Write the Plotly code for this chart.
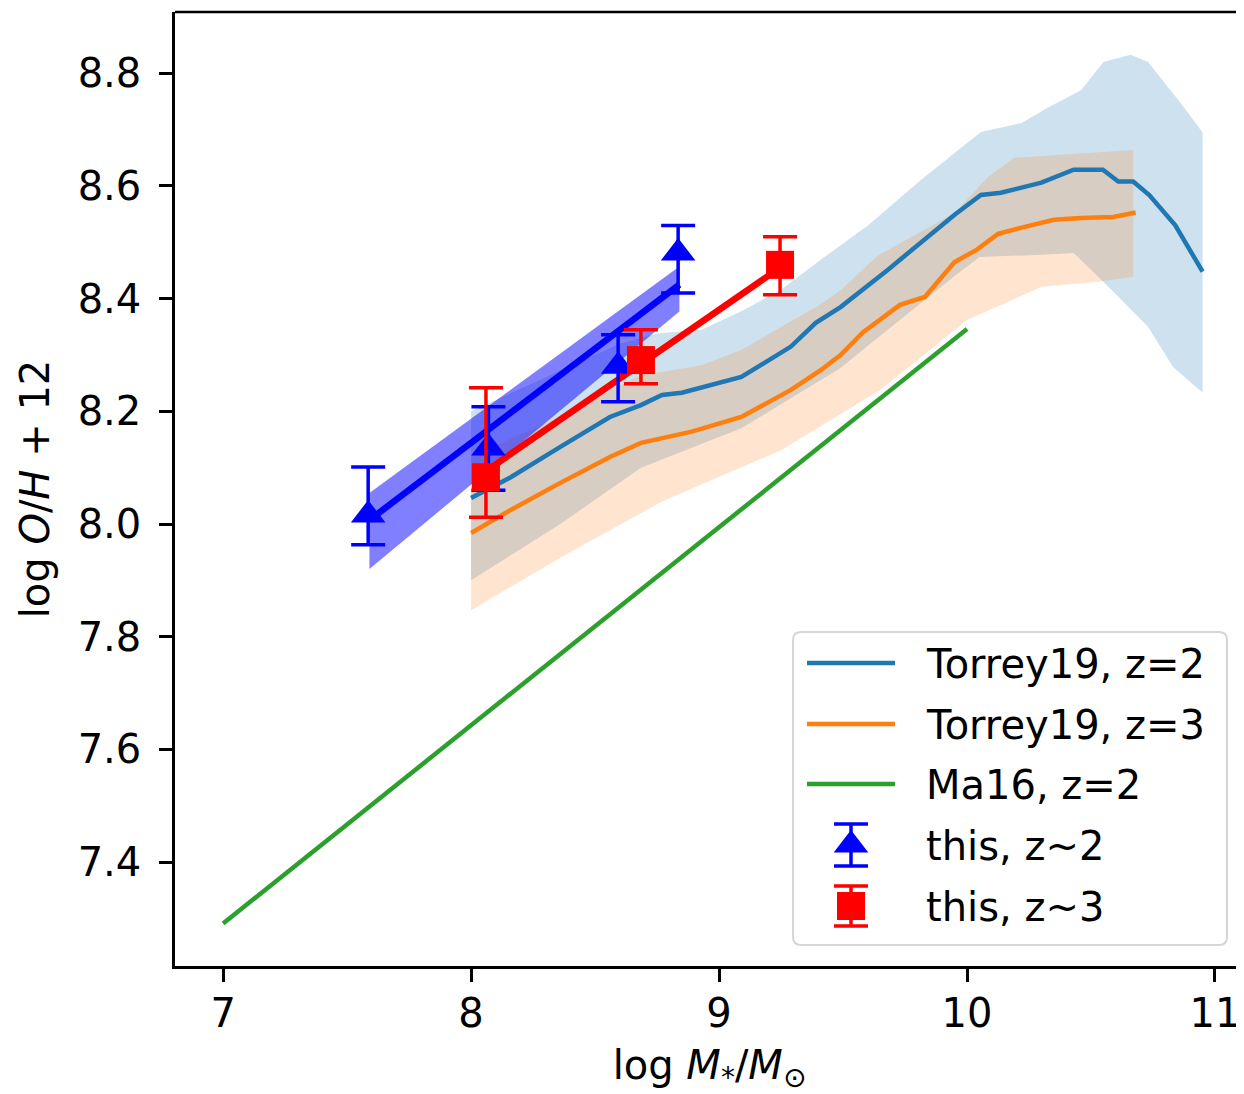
import plotly.graph_objects as go

# ---------------- data ----------------
# Torrey19, z=2 : median line
t2_x = [8.0, 8.16, 8.36, 8.56, 8.685, 8.77, 8.85, 8.89, 9.09, 9.29, 9.39, 9.49, 9.68,
        9.95, 10.056, 10.137, 10.22, 10.30, 10.43, 10.548, 10.61, 10.67, 10.735, 10.84, 10.95]
t2_y = [8.046, 8.083, 8.137, 8.19, 8.211, 8.229, 8.233, 8.238, 8.261, 8.315, 8.357, 8.385, 8.451,
        8.549, 8.584, 8.588, 8.597, 8.606, 8.629, 8.629, 8.608, 8.608, 8.584, 8.53, 8.448]
# Torrey19, z=2 : band edges
t2_up_x = [8.0, 8.3, 8.6, 8.75, 8.93, 9.1, 9.25, 9.41, 9.6, 9.815, 10.056, 10.22, 10.33,
           10.46, 10.55, 10.66, 10.73, 10.86, 10.95]
t2_up_y = [8.20, 8.26, 8.32, 8.338, 8.345, 8.38, 8.416, 8.469, 8.53, 8.611, 8.696, 8.712, 8.74,
           8.77, 8.82, 8.833, 8.82, 8.748, 8.695]
t2_lo_x = [8.0, 8.36, 8.685, 8.77, 9.09, 9.49, 9.61, 9.95, 10.05, 10.30, 10.43, 10.55, 10.73,
           10.83, 10.95]
t2_lo_y = [7.90, 8.00, 8.10, 8.114, 8.17, 8.277, 8.32, 8.44, 8.474, 8.478, 8.481, 8.43, 8.35,
           8.279, 8.233]

# Torrey19, z=3 : median line
t3_x = [8.0, 8.16, 8.36, 8.56, 8.685, 8.77, 8.89, 9.09, 9.29, 9.41, 9.49, 9.58, 9.73, 9.83,
        9.95, 10.04, 10.125, 10.22, 10.35, 10.46, 10.59, 10.68]
t3_y = [7.984, 8.025, 8.073, 8.119, 8.144, 8.152, 8.164, 8.19, 8.238, 8.273, 8.30, 8.34, 8.389,
        8.403, 8.465, 8.487, 8.515, 8.526, 8.540, 8.543, 8.545, 8.553]
# Torrey19, z=3 : band edges
t3_up_x = [8.0, 8.36, 8.685, 8.77, 8.93, 9.09, 9.41, 9.49, 9.64, 9.95, 10.085, 10.19, 10.67]
t3_up_y = [8.12, 8.19, 8.265, 8.27, 8.282, 8.309, 8.39, 8.415, 8.476, 8.552, 8.616, 8.65, 8.664]
t3_lo_x = [8.0, 8.36, 8.77, 9.25, 9.65, 10.0, 10.22, 10.30, 10.53, 10.67]
t3_lo_y = [7.847, 7.94, 8.04, 8.131, 8.238, 8.362, 8.405, 8.421, 8.43, 8.439]

# Ma16, z=2
ma_x = [7.0, 10.0]
ma_y = [7.291, 8.346]

# this, z~2
z2_x = [7.585, 8.07, 8.593, 8.835]
z2_y = [8.016, 8.135, 8.28, 8.481]
z2_ep = [0.085, 0.073, 0.056, 0.049]
z2_em = [0.053, 0.075, 0.063, 0.071]
z2_fit_x = [7.59, 8.84]
z2_fit_y = [8.007, 8.425]
z2_fit_up = [8.055, 8.457]
z2_fit_lo = [7.92, 8.377]

# this, z~3
z3_x = [8.06, 8.685, 9.246]
z3_y = [8.083, 8.291, 8.46]
z3_ep = [0.159, 0.054, 0.05]
z3_em = [0.071, 0.042, 0.053]
z3_fit_x = [8.06, 9.246]
z3_fit_y = [8.094, 8.455]

legend_labels = ["Torrey19, z=2", "Torrey19, z=3", "Ma16, z=2", "this, z~2", "this, z~3"]

x_ticks = [7, 8, 9, 10, 11]
y_ticks = [7.4, 7.6, 7.8, 8.0, 8.2, 8.4, 8.6, 8.8]

# ---------------- styling ----------------
C_BLUE = "#1f77b4"
C_ORANGE = "#ff7f0e"
C_GREEN = "#2ca02c"
FONT = "DejaVu Sans"
FS = 40
LW = 4.5

OFF = 8  # page body margin
W, H = 1244 - OFF, 1094 - OFF
L, R, T, B = 175 - OFF, 0, 12 - OFF, 128


def band(xu, yu, xl, yl):
    return list(xu) + list(xl)[::-1], list(yu) + list(yl)[::-1]


fig = go.Figure()

bx, by = band(t2_up_x, t2_up_y, t2_lo_x, t2_lo_y)
fig.add_trace(go.Scatter(x=bx, y=by, fill="toself", fillcolor="rgba(31,119,180,0.22)",
                         line=dict(width=0), mode="lines", showlegend=False, hoverinfo="skip"))
bx, by = band(t3_up_x, t3_up_y, t3_lo_x, t3_lo_y)
fig.add_trace(go.Scatter(x=bx, y=by, fill="toself", fillcolor="rgba(255,127,14,0.2)",
                         line=dict(width=0), mode="lines", showlegend=False, hoverinfo="skip"))

fig.add_trace(go.Scatter(x=t2_x, y=t2_y, mode="lines", line=dict(color=C_BLUE, width=LW),
                         name=legend_labels[0], showlegend=False))
fig.add_trace(go.Scatter(x=t3_x, y=t3_y, mode="lines", line=dict(color=C_ORANGE, width=LW),
                         name=legend_labels[1], showlegend=False))
fig.add_trace(go.Scatter(x=ma_x, y=ma_y, mode="lines", line=dict(color=C_GREEN, width=LW),
                         name=legend_labels[2], showlegend=False))

# fit band z~2
bx, by = band(z2_fit_x, z2_fit_up, z2_fit_x, z2_fit_lo)
fig.add_trace(go.Scatter(x=bx, y=by, fill="toself", fillcolor="rgba(0,0,255,0.5)",
                         line=dict(width=0), mode="lines", showlegend=False, hoverinfo="skip"))
fig.add_trace(go.Scatter(x=z2_fit_x, y=z2_fit_y, mode="lines", line=dict(color="blue", width=6.5),
                         showlegend=False))
fig.add_trace(go.Scatter(x=z3_fit_x, y=z3_fit_y, mode="lines", line=dict(color="red", width=6.5),
                         showlegend=False))

fig.add_trace(go.Scatter(x=z2_x, y=z2_y, mode="markers",
                         marker=dict(symbol="triangle-up", size=30, color="blue", line=dict(width=0)),
                         error_y=dict(type="data", symmetric=False, array=z2_ep, arrayminus=z2_em,
                                      color="blue", thickness=3.5, width=17),
                         name=legend_labels[3], showlegend=False))
fig.add_trace(go.Scatter(x=z3_x, y=z3_y, mode="markers",
                         marker=dict(symbol="square", size=28, color="red", line=dict(width=0)),
                         error_y=dict(type="data", symmetric=False, array=z3_ep, arrayminus=z3_em,
                                      color="red", thickness=3.5, width=17),
                         name=legend_labels[4], showlegend=False))

# ---------------- manual legend (matplotlib style) ----------------
PW = W - L - R
PH = H - T - B


def px(p):  # page pixel -> paper x
    return (p - OFF - L) / PW


def py(p):  # page pixel -> paper y
    return (H - B - (p - OFF)) / PH


rows = [663, 724, 784, 845, 906]
shapes = []
x0, x1, y0, y1 = px(793), px(1227), py(945), py(632)
rx, ry = 8 / PW, 8 / PH
path = (f"M{x0+rx},{y0} L{x1-rx},{y0} Q{x1},{y0} {x1},{y0+ry} L{x1},{y1-ry} Q{x1},{y1} {x1-rx},{y1} "
        f"L{x0+rx},{y1} Q{x0},{y1} {x0},{y1-ry} L{x0},{y0+ry} Q{x0},{y0} {x0+rx},{y0} Z")
shapes.append(dict(type="path", xref="paper", yref="paper", path=path,
                   fillcolor="rgba(255,255,255,0.8)", line=dict(color="#d6d6d6", width=2), layer="below"))
for r, c in zip(rows[:3], [C_BLUE, C_ORANGE, C_GREEN]):
    shapes.append(dict(type="line", xref="paper", yref="paper", x0=px(807), x1=px(895),
                       y0=py(r), y1=py(r), line=dict(color=c, width=LW)))
# top spine
shapes.append(dict(type="line", xref="paper", yref="paper", x0=0, x1=1, y0=1, y1=1,
                   line=dict(color="black", width=2.5)))

annotations = []
for r, lab in zip(rows, legend_labels):
    annotations.append(dict(xref="paper", yref="paper", x=px(924), y=py(r + 1), text=lab,
                            showarrow=False, xanchor="left", yanchor="middle",
                            font=dict(family=FONT, size=FS, color="black")))

fig.add_trace(go.Scatter(x=[px(851)], y=[py(rows[3])], xaxis="x2", yaxis="y2", mode="markers",
                         marker=dict(symbol="triangle-up", size=30, color="blue"),
                         error_y=dict(type="data", array=[21 / PH], color="blue", thickness=3.5, width=17),
                         showlegend=False, hoverinfo="skip"))
fig.add_trace(go.Scatter(x=[px(851)], y=[py(rows[4])], xaxis="x2", yaxis="y2", mode="markers",
                         marker=dict(symbol="square", size=28, color="red"),
                         error_y=dict(type="data", array=[20 / PH], color="red", thickness=3.5, width=17),
                         showlegend=False, hoverinfo="skip"))

fig.update_layout(
    width=W, height=H,
    margin=dict(l=L, r=R, t=T, b=B, pad=0),
    paper_bgcolor="white", plot_bgcolor="white",
    font=dict(family=FONT, size=FS, color="black"),
    showlegend=False,
    shapes=shapes,
    annotations=annotations,
    xaxis=dict(range=[6.806, 11.117], tickvals=x_ticks, ticktext=[str(v) for v in x_ticks],
               showgrid=False, zeroline=False, showline=True, linecolor="black", linewidth=2.5,
               ticks="outside", ticklen=13, tickwidth=2.5, tickcolor="black",
               ticklabelstandoff=-3,
               title=dict(text="log <i>M</i><sub>*</sub>/<i>M</i><sub>⊙</sub>",
                          font=dict(family=FONT, size=FS), standoff=19)),
    yaxis=dict(range=[7.2155, 8.9088], tickvals=y_ticks, tickformat=".1f",
               showgrid=False, zeroline=False, showline=True, linecolor="black", linewidth=2.5,
               ticks="outside", ticklen=13, tickwidth=2.5, tickcolor="black",
               ticklabelstandoff=10,
               title=dict(text="log <i>O</i>/<i>H</i> + 12",
                          font=dict(family=FONT, size=FS), standoff=16)),
    xaxis2=dict(overlaying="x", range=[0, 1], visible=False),
    yaxis2=dict(overlaying="y", range=[0, 1], visible=False),
)

fig.write_html("out.html")
